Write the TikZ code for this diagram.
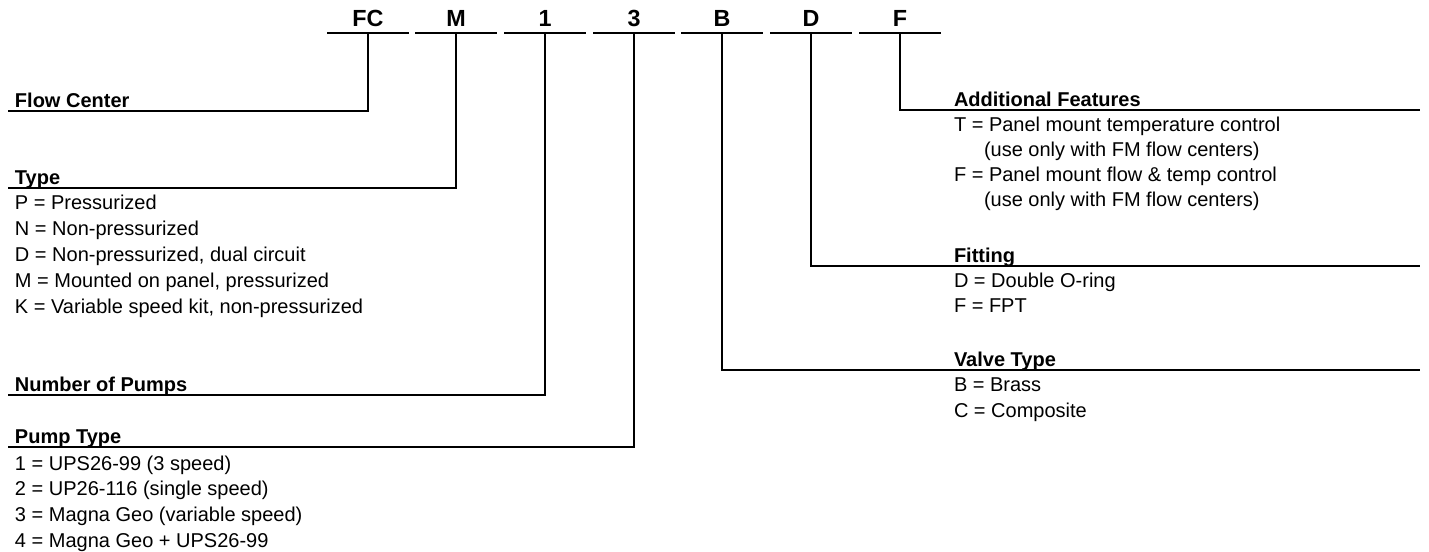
\documentclass[tikz,border=0pt]{standalone}
\usepackage{fontspec}
\setmainfont{Liberation Sans}
\usepackage{tikz}

\begin{document}
\begin{tikzpicture}[x=0.75pt, y=-0.75pt, line width=1.5pt,
    font = \fontsize{15}{17}\selectfont,
    code/.style={font=\fontsize{17.5}{20}\selectfont\bfseries, anchor=base, inner sep=0pt},
    head/.style={font=\fontsize{15}{17}\selectfont\bfseries, anchor=base west, inner sep=0pt},
    item/.style={anchor=base west, inner sep=0pt}]
    \useasboundingbox (0,0) rectangle (1429,552);

    % model number
    \node[code] (fc) at (368,27) {FC};
    \node[code] (m) at (456,27) {M};
    \node[code] (one) at (545,27) {1};
    \node[code] (three) at (634,27) {3};
    \node[code] (b) at (722,27) {B};
    \node[code] (d) at (811,27) {D};
    \node[code] (f) at (900,27) {F};

    \draw (327,33) -- (409,33);
    \draw (415,33) -- (497,33);
    \draw (504,33) -- (586,33);
    \draw (593,33) -- (675,33);
    \draw (681,33) -- (763,33);
    \draw (770,33) -- (852,33);
    \draw (859,33) -- (941,33);

    \coordinate (fctop) at (368,33);
    \coordinate (mtop) at (456,33);
    \coordinate (onetop) at (545,33);
    \coordinate (threetop) at (634,33);
    \coordinate (btop) at (722,33);
    \coordinate (dtop) at (811,33);
    \coordinate (ftop) at (900,33);

    % left side
    \node[head] (flow) at (14,107.5) {Flow Center};
    \coordinate (flowend) at (8,111);
    \draw (fctop) |- (flowend);

    \node[head] (type) at (14,184.5) {Type};
    \coordinate (typeend) at (8,188);
    \draw (mtop) |- (typeend);
    \node[item] (typep) at (14,210) {P = Pressurized};
    \node[item] (typen) at (14,236) {N = Non-pressurized};
    \node[item] (typed) at (14,262) {D = Non-pressurized, dual circuit};
    \node[item] (typem) at (14,288) {M = Mounted on panel, pressurized};
    \node[item] (typek) at (14,314) {K = Variable speed kit, non-pressurized};

    \node[head] (pumps) at (14,391.5) {Number of Pumps};
    \coordinate (pumpsend) at (8,395);
    \draw (onetop) |- (pumpsend);

    \node[head] (pump) at (14,443.5) {Pump Type};
    \coordinate (pumpend) at (8,447);
    \draw (threetop) |- (pumpend);
    \node[item] (pump1) at (14,470) {1 = UPS26-99 (3 speed)};
    \node[item] (pump2) at (14,495.7) {2 = UP26-116 (single speed)};
    \node[item] (pump3) at (14,521.4) {3 = Magna Geo (variable speed)};
    \node[item] (pump4) at (14,547) {4 = Magna Geo + UPS26-99};

    % right side
    \node[head] (extra) at (953,106.5) {Additional Features};
    \coordinate (extraend) at (1420,110);
    \draw (ftop) |- (extraend);
    \node[item] (extrat) at (953,132) {T = Panel mount temperature control};
    \node[item] (extrat2) at (983,157) {(use only with FM flow centers)};
    \node[item] (extraf) at (953,182) {F = Panel mount flow \& temp control};
    \node[item] (extraf2) at (983,207) {(use only with FM flow centers)};

    \node[head] (fitting) at (953,262.5) {Fitting};
    \coordinate (fittingend) at (1420,266);
    \draw (dtop) |- (fittingend);
    \node[item] (fittingd) at (953,288) {D = Double O-ring};
    \node[item] (fittingf) at (953,313) {F = FPT};

    \node[head] (valve) at (953,366.5) {Valve Type};
    \coordinate (valveend) at (1420,370);
    \draw (btop) |- (valveend);
    \node[item] (valveb) at (953,392) {B = Brass};
    \node[item] (valvec) at (953,417) {C = Composite};
\end{tikzpicture}
\end{document}
